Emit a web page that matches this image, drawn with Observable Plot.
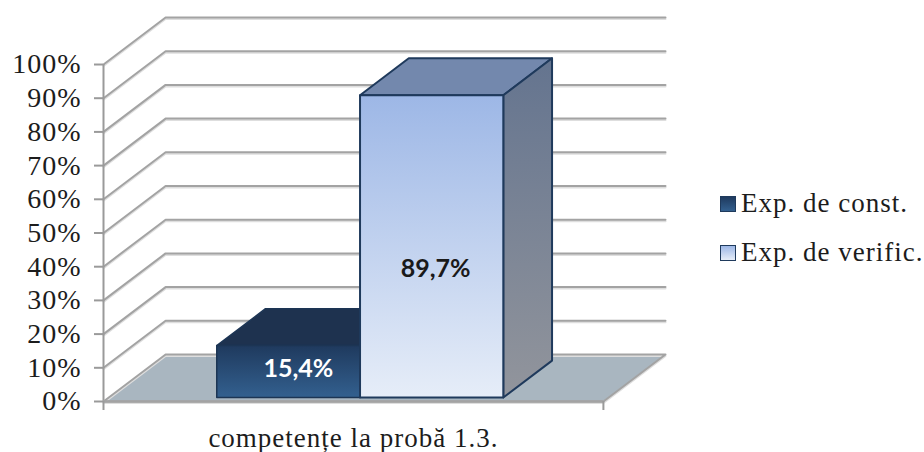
<!DOCTYPE html>
<html>
<head>
<meta charset="utf-8">
<script src="https://cdn.jsdelivr.net/npm/d3@7"></script>
<script src="https://cdn.jsdelivr.net/npm/@observablehq/plot@0.6"></script>
<style>
  html,body{margin:0;padding:0;background:#fff;}
  #wrap{position:relative;width:924px;height:452px;overflow:hidden;}
  #legend{position:absolute;left:720px;top:179px;font-family:"Liberation Serif",serif;font-size:27px;letter-spacing:1px;color:#1c1c1c;line-height:49px;white-space:nowrap;}
  #legend div{display:flex;align-items:center;height:49px;}
  #legend i{display:block;width:14px;height:14px;border:1px solid #1f3a5c;margin-right:5px;}
</style>
</head>
<body>
<div id="wrap"><div id="chart"></div><div id="legend"></div></div>
<script>
const seriesNames = ["Exp. de const.", "Exp. de verific."];
const seriesValues = [15.4, 89.7];
const seriesLabels = ["15,4%", "89,7%"];
const categoryLabel = "competențe la probă 1.3.";
const yTicks = [0, 10, 20, 30, 40, 50, 60, 70, 80, 90, 100];

// oblique depth: data units gained per unit of depth
const depthX = 12.42, depthY = 13.95;
const P = (u, v, z = 0) => ({x: u + depthX * z, y: v + depthY * z});
const barZ0 = 0.085, barZ1 = 0.87, barStart = 21.6, barWidth = 28.66;

const gradient = (id, stops) => `<linearGradient id="${id}" x1="0" y1="0" x2="0" y2="1">` +
  stops.map(([o, c]) => `<stop offset="${o}" stop-color="${c}"/>`).join("") + `</linearGradient>`;
const defs = () => {
  const g = d3.create("svg:defs");
  g.html(
    gradient("frontDark", [[0, "#1f3a5e"], [1, "#33608f"]]) +
    gradient("frontLight", [[0, "#9db7e6"], [1, "#e6edf8"]]) +
    gradient("sideLight", [[0, "#64748f"], [1, "#92959c"]])
  );
  return g.node();
};

const poly = (pts, o) => Plot.line(pts, {x: "x", y: "y", curve: "linear-closed", ...o});
const gridColor = "#a3a3a3";

const wall = yTicks.flatMap(v => {
  const pts = v === 0
    ? [P(0, v, 0), P(0, v, 1), P(100, v, 1), P(100, v, 0), P(0, v, 0)]
    : [P(0, v, 0), P(0, v, 1), P(100, v, 1)];
  return [
    Plot.line(pts, {x: "x", y: "y", stroke: "#dedede", strokeWidth: 2, dy: 1.5}),
    Plot.line(pts, {x: "x", y: "y", stroke: gridColor, strokeWidth: 2})
  ];
});

function box(i, front, top, side, stroke, sw) {
  const a = barStart + i * barWidth, b = a + barWidth, v = seriesValues[i];
  return [
    poly([P(a, v, barZ0), P(a, v, barZ1), P(b, v, barZ1), P(b, v, barZ0)], {fill: top, stroke, strokeWidth: sw}),
    poly([P(b, 0, barZ0), P(b, v, barZ0), P(b, v, barZ1), P(b, 0, barZ1)], {fill: side, stroke, strokeWidth: sw}),
    poly([P(a, 0, barZ0), P(a, v, barZ0), P(b, v, barZ0), P(b, 0, barZ0)], {fill: front, stroke, strokeWidth: sw})
  ];
}
const labelMark = (i, color, dx, dy) => {
  const c = P(barStart + (i + 0.5) * barWidth, seriesValues[i] / 2, barZ0);
  return Plot.text([c], {x: "x", y: "y", text: () => seriesLabels[i], fill: color, dx, dy,
    fontFamily: "Lato, sans-serif", fontWeight: 700, fontSize: 25});
};

const chart = Plot.plot({
  width: 924, height: 452,
  marginLeft: 103, marginRight: 259, marginTop: 17, marginBottom: 51,
  x: {domain: [0, 100 + depthX], axis: null},
  y: {domain: [0, 100 + depthY], axis: null},
  style: {background: "transparent", overflow: "visible"},
  marks: [
    defs,
    poly([P(0, 0, 0), P(0, 0, 1), P(100, 0, 1), P(100, 0, 0)], {fill: "#a9b6c0"}),
    ...wall,
    Plot.axisY({ticks: yTicks, tickFormat: d => d + "%", tickSize: 9, tickPadding: 13,
      stroke: "#9a9a9a", strokeWidth: 2, fill: "#1c1c1c", label: null,
      fontFamily: "Liberation Serif, serif", fontSize: 28, textStroke: "none"}),
    Plot.ruleX([0], {y1: 0, y2: 100, stroke: "#9a9a9a", strokeWidth: 2}),
    Plot.ruleY([0], {x1: 0, x2: 100, stroke: "#a3a3a3", strokeWidth: 2.5}),
    Plot.axisX({ticks: [0, 100], tickSize: 9, tickFormat: () => "", stroke: "#9a9a9a", strokeWidth: 2, label: null}),
    Plot.axisX({ticks: [50], tickSize: 0, tickPadding: 26, tickFormat: () => categoryLabel, label: null,
      fill: "#1c1c1c", fontFamily: "Liberation Serif, serif", fontSize: 27}),
    ...box(0, "url(#frontDark)", "#1e324f", "#1e324f", "#1c3554", 1.5),
    ...box(1, "url(#frontLight)", "#7388ad", "url(#sideLight)", "#1f3a5c", 2),
    labelMark(0, "#ffffff", 10, -3),
    labelMark(1, "#1a1a1a", 4, 23)
  ]
});
document.getElementById("chart").appendChild(chart);
chart.querySelectorAll("g[aria-label='y-axis tick label'] text, g[aria-label='x-axis tick label'] text")
  .forEach(t => t.style.letterSpacing = "1px");

const swatches = ["linear-gradient(#1f3a5e,#33608f)", "linear-gradient(#9db7e6,#e6edf8)"];
d3.select("#legend").selectAll("div").data(seriesNames).join("div")
  .html((d, i) => `<i style="background:${swatches[i]}"></i><span>${d}</span>`);
</script>
</body>
</html>
